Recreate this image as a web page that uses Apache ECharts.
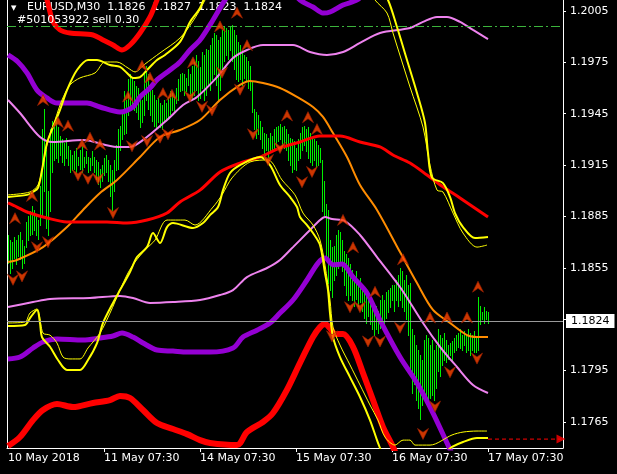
<!DOCTYPE html>
<html><head><meta charset="utf-8">
<script src="https://cdn.jsdelivr.net/npm/echarts@6/dist/echarts.min.js"></script>
<style>html,body{margin:0;padding:0;background:#000}#c{width:617px;height:474px}</style>
</head><body><div id="c"></div>
<script>
// ---- axis / ticks ----
const xTickIdx = [0, 48, 96, 144, 192, 240];
const xTickText = ['10 May 2018', '11 May 07:30', '14 May 07:30', '15 May 07:30', '16 May 07:30', '17 May 07:30'];
const yTicks = [1.2005, 1.1975, 1.1945, 1.1915, 1.1885, 1.1855, 1.1825, 1.1795, 1.1765];
const yLabels = [1.2005, 1.1975, 1.1945, 1.1915, 1.1885, 1.1855, 1.1795, 1.1765];
const yMin = 1.17498, yMax = 1.20114;
const curPrice = 1.1824;
const orderPrice = 1.1996;
const orderText = '#501053922 sell 0.30';
const headerText = 'EURUSD,M30  1.1826  1.1827  1.1823  1.1824';

// ---- M30 bars (high / low) ----
const barHigh = [1.1874,1.1871,1.1870,1.1873,1.1871,1.1874,1.1876,1.1871,1.1868,1.1882,
1.1885,1.1888,1.1891,1.1889,1.1886,1.1883,1.1903,1.1936,1.1948,1.1924,
1.1900,1.1936,1.1941,1.1938,1.1942,1.1937,1.1932,1.1930,1.1928,1.1931,
1.1926,1.1924,1.1921,1.1923,1.1925,1.1920,1.1924,1.1926,1.1920,1.1923,
1.1920,1.1919,1.1923,1.1920,1.1918,1.1917,1.1913,1.1915,1.1919,1.1921,
1.1918,1.1915,1.1912,1.1918,1.1927,1.1936,1.1938,1.1947,1.1958,1.1953,
1.1965,1.1968,1.1966,1.1964,1.1961,1.1960,1.1956,1.1953,1.1969,1.1973,
1.1968,1.1962,1.1959,1.1956,1.1953,1.1954,1.1951,1.1950,1.1953,1.1951,
1.1955,1.1958,1.1957,1.1955,1.1960,1.1965,1.1968,1.1969,1.1968,1.1966,
1.1971,1.1968,1.1973,1.1975,1.1979,1.1976,1.1972,1.1981,1.1979,1.1983,
1.1982,1.1985,1.1989,1.1992,1.1991,1.1988,1.1990,1.1994,1.1996,1.1995,
1.1994,1.1996,1.1997,1.1994,1.1991,1.1987,1.1985,1.1982,1.1979,1.1978,
1.1976,1.1973,1.1964,1.1948,1.1946,1.1944,1.1941,1.1937,1.1934,1.1933,
1.1931,1.1934,1.1932,1.1936,1.1937,1.1938,1.1939,1.1937,1.1938,1.1936,
1.1933,1.1931,1.1930,1.1929,1.1925,1.1930,1.1934,1.1937,1.1938,1.1936,
1.1937,1.1934,1.1931,1.1930,1.1929,1.1927,1.1925,1.1918,1.1906,1.1892,
1.1889,1.1871,1.1867,1.1868,1.1874,1.1877,1.1876,1.1871,1.1865,1.1863,
1.1861,1.1857,1.1854,1.1851,1.1853,1.1848,1.1849,1.1845,1.1842,1.1839,
1.1841,1.1836,1.1833,1.1831,1.1833,1.1830,1.1836,1.1839,1.1836,1.1841,
1.1842,1.1843,1.1845,1.1845,1.1848,1.1851,1.1855,1.1853,1.1848,1.1851,
1.1845,1.1846,1.1819,1.1816,1.1810,1.1807,1.1804,1.1801,1.1813,1.1816,
1.1814,1.1810,1.1813,1.1807,1.1810,1.1819,1.1816,1.1814,1.1817,1.1813,
1.1810,1.1811,1.1812,1.1814,1.1816,1.1817,1.1819,1.1816,1.1818,1.1816,
1.1819,1.1817,1.1816,1.1818,1.1815,1.1838,1.1833,1.1829,1.1832,1.1830,
1.1829];
const barLow = [1.1858,1.1852,1.1855,1.1861,1.1857,1.1862,1.1860,1.1855,1.1858,1.1867,
1.1871,1.1874,1.1875,1.1877,1.1874,1.1872,1.1880,1.1886,1.1900,1.1878,
1.1874,1.1888,1.1911,1.1918,1.1919,1.1917,1.1921,1.1917,1.1915,1.1919,
1.1915,1.1911,1.1912,1.1913,1.1911,1.1915,1.1913,1.1911,1.1914,1.1916,
1.1911,1.1912,1.1915,1.1911,1.1907,1.1904,1.1902,1.1906,1.1909,1.1911,
1.1906,1.1897,1.1889,1.1900,1.1912,1.1913,1.1924,1.1930,1.1933,1.1934,
1.1944,1.1950,1.1948,1.1947,1.1946,1.1942,1.1937,1.1940,1.1944,1.1953,
1.1948,1.1944,1.1941,1.1938,1.1936,1.1940,1.1937,1.1936,1.1941,1.1942,
1.1943,1.1945,1.1947,1.1946,1.1951,1.1953,1.1958,1.1959,1.1956,1.1958,
1.1962,1.1956,1.1954,1.1956,1.1959,1.1953,1.1954,1.1960,1.1953,1.1956,
1.1962,1.1959,1.1965,1.1968,1.1962,1.1953,1.1959,1.1971,1.1976,1.1979,
1.1977,1.1982,1.1976,1.1971,1.1965,1.1964,1.1965,1.1962,1.1966,1.1964,
1.1960,1.1959,1.1946,1.1936,1.1931,1.1933,1.1930,1.1925,1.1921,1.1924,
1.1920,1.1924,1.1923,1.1925,1.1926,1.1929,1.1930,1.1927,1.1925,1.1924,
1.1918,1.1915,1.1911,1.1913,1.1912,1.1918,1.1919,1.1924,1.1927,1.1923,
1.1919,1.1917,1.1915,1.1918,1.1914,1.1915,1.1917,1.1888,1.1886,1.1860,
1.1846,1.1842,1.1838,1.1848,1.1851,1.1855,1.1858,1.1853,1.1845,1.1839,
1.1836,1.1839,1.1836,1.1833,1.1837,1.1833,1.1835,1.1830,1.1826,1.1823,
1.1827,1.1822,1.1819,1.1816,1.1819,1.1817,1.1820,1.1824,1.1822,1.1826,
1.1829,1.1832,1.1836,1.1830,1.1836,1.1833,1.1836,1.1832,1.1830,1.1825,
1.1816,1.1792,1.1782,1.1787,1.1778,1.1773,1.1767,1.1775,1.1781,1.1778,
1.1777,1.1779,1.1781,1.1778,1.1785,1.1795,1.1792,1.1798,1.1801,1.1800,
1.1802,1.1804,1.1801,1.1806,1.1807,1.1809,1.1808,1.1807,1.1810,1.1806,
1.1807,1.1804,1.1807,1.1806,1.1806,1.1807,1.1822,1.1825,1.1823,1.1825,
1.1823];

// ---- indicator lines [bar index, price] ----
const redTop = [[0,1.20348],[11,1.2026],[18,1.20143],[19.5,1.20114],[21,1.20044],[22.5,1.19986],[26,1.19939],[31,1.19921],[42.5,1.1991],[47.5,1.1988],[52.5,1.19851],[57,1.19822],[61,1.19851],[66,1.19921],[71,1.20015],[74.5,1.20114],[78.5,1.20231],[86,1.20377],[96,1.20523]];
const redBot = [[0,1.17509],[6,1.17562],[12.5,1.17661],[17.5,1.1772],[24.5,1.17755],[32.5,1.17737],[42.5,1.17761],[51,1.17778],[56,1.17802],[61,1.1779],[67.5,1.1772],[74.5,1.17644],[82.5,1.17609],[89.5,1.17579],[96,1.17544],[101,1.17527],[114.5,1.17515],[119.5,1.17591],[127.5,1.1765],[132.5,1.17702],[139.5,1.17838],[146,1.17995],[152.5,1.18146],[156,1.18204],[158.5,1.18222],[161,1.18198],[163.5,1.18163],[167.5,1.18163],[172.5,1.18089],[177.5,1.17936],[182.5,1.17778],[187.5,1.1762],[192.5,1.17504],[196,1.17398]];
const purpTop = [[0,1.19793],[5,1.19752],[9.5,1.19688],[14.5,1.19588],[19.5,1.19542],[24.5,1.19512],[39.5,1.19512],[46,1.19489],[56,1.1946],[62.5,1.19489],[66,1.19548],[71,1.196],[74.5,1.19647],[81,1.19705],[86,1.19752],[91,1.19822],[96,1.1988],[102.5,1.19997],[108.5,1.20114],[116,1.20231],[126,1.2026],[138.5,1.20202],[146,1.20114],[152.5,1.20073],[157.5,1.20038],[161,1.20044],[167.5,1.20085],[174.5,1.20114],[183.5,1.20202],[196,1.20289]];
const purpBot = [[0,1.18018],[6,1.18029],[12.5,1.18082],[17.5,1.18117],[24.5,1.18134],[37.5,1.18128],[46,1.1814],[52.5,1.18152],[57,1.18169],[62.5,1.18146],[67.5,1.18111],[74.5,1.1807],[82.5,1.18064],[89.5,1.18058],[101,1.18058],[112.5,1.18082],[117.5,1.18146],[124.5,1.18186],[131,1.18228],[136,1.18286],[142.5,1.18362],[149.5,1.18479],[155,1.18578],[158.5,1.18607],[162.5,1.18568],[167,1.18572],[172.5,1.18496],[179.5,1.18403],[186,1.18245],[196,1.18029],[204.5,1.17877],[212.5,1.17702],[219.5,1.17527],[223.5,1.17428]];
const pinkTop = [[0,1.1953],[6,1.19454],[16,1.19314],[22.5,1.19285],[37.5,1.19296],[54.5,1.19256],[61,1.19256],[67.5,1.19296],[79.5,1.19413],[87.5,1.19501],[94.5,1.19548],[104.5,1.19664],[112.5,1.19775],[119.5,1.19822],[127.5,1.19851],[142.5,1.19851],[151,1.1981],[159.5,1.19793],[167.5,1.1981],[176,1.19863],[186,1.19921],[201,1.1995],[207.5,1.19986],[214.5,1.20015],[219.5,1.20015],[226,1.19986],[232.5,1.19939],[240,1.19886]];
const pinkBot = [[0,1.18321],[12.5,1.1835],[21,1.18368],[41,1.18374],[56,1.18386],[62.5,1.18374],[71,1.18345],[82.5,1.1835],[96,1.18362],[106,1.18391],[112.5,1.1842],[119.5,1.18496],[129.5,1.18549],[136,1.18596],[142.5,1.18671],[149.5,1.18753],[156,1.18829],[158.5,1.18847],[162,1.18835],[168.5,1.18823],[176,1.18742],[184.5,1.18613],[196,1.18438],[207.5,1.18228],[216,1.18089],[224.5,1.17971],[232.5,1.17866],[240,1.17819]];
const orange = [[0,1.18584],[4.5,1.18596],[17.5,1.18671],[29.5,1.18788],[37.5,1.18888],[46,1.18987],[54.5,1.19063],[66,1.19197],[76,1.19314],[86,1.19355],[96,1.19413],[106,1.1953],[116,1.19618],[121,1.19641],[127.5,1.19629],[136,1.196],[144.5,1.19548],[152.5,1.19489],[157.5,1.19431],[162.5,1.19337],[169.5,1.19197],[176,1.19034],[184.5,1.18888],[196,1.18642],[204.5,1.18461],[212.5,1.18304],[221,1.18228],[229.5,1.18157],[234.5,1.18146],[240,1.18146]];
const redMid = [[0,1.18929],[4.5,1.18905],[9.5,1.18876],[19.5,1.18841],[29.5,1.18818],[49.5,1.18818],[59.5,1.18812],[69.5,1.18829],[79.5,1.1887],[86,1.18935],[96,1.19004],[106,1.1911],[116,1.19162],[126,1.19197],[136,1.1925],[146,1.19285],[156,1.1932],[166,1.1932],[176,1.19285],[186,1.19256],[192.5,1.19209],[201,1.19162],[209.5,1.19092],[217.5,1.19023],[226,1.18958],[240,1.18847]];
const yelTop = [[0,1.18964],[9.5,1.18976],[12.5,1.18993],[15,1.19017],[17,1.19121],[19.5,1.19279],[22.5,1.19372],[26,1.19472],[29.5,1.19588],[34.5,1.19705],[40,1.19764],[44.5,1.19764],[51,1.19734],[56,1.19723],[59.5,1.19688],[62.5,1.19659],[66,1.19664],[69.5,1.19705],[74.5,1.19764],[78.5,1.19793],[86,1.19869],[91,1.19986],[96,1.20067],[101,1.20202],[116,1.20406],[176,1.20406],[186,1.20172],[190,1.20114],[194.5,1.19956],[199.5,1.19764],[204.5,1.19571],[208.5,1.19396],[210,1.19221],[212,1.19077],[217.5,1.19045],[221,1.18964],[223.5,1.1887],[227.5,1.18788],[233.5,1.18724],[240,1.1873]];
const yelTopThin = [[0,1.18976],[11,1.18993],[15,1.19034],[17.5,1.1915],[20,1.19296],[23.5,1.19413],[27,1.1953],[31,1.19618],[36,1.19659],[43.5,1.19688],[48.5,1.19752],[54.5,1.19752],[60,1.19717],[63.5,1.19694],[68.5,1.1974],[76,1.19805],[86,1.19892],[93.5,1.20009],[98.5,1.20114],[103.5,1.20231],[173.5,1.20289],[183.5,1.20114],[189.5,1.20038],[192.5,1.19921],[201,1.19606],[207.5,1.19372],[211,1.1915],[214.5,1.19004],[217.5,1.18993],[222.5,1.1887],[227.5,1.18753],[234.5,1.18671],[239.5,1.18683]];
const yelBot = [[0,1.1821],[8.5,1.18216],[11,1.18257],[14.5,1.18304],[16,1.18228],[17,1.18146],[21,1.18089],[25,1.18012],[29.5,1.17954],[36,1.17954],[40,1.18012],[44.5,1.18111],[47.5,1.18228],[52.5,1.18345],[56,1.1842],[61,1.18526],[64.5,1.18613],[69.5,1.18671],[72.5,1.18753],[76,1.18695],[79.5,1.18788],[82.5,1.18812],[92.5,1.18783],[97.5,1.18812],[101,1.18858],[105,1.18905],[107.5,1.19004],[111,1.19104],[116,1.1915],[126,1.19197],[131,1.1915],[136,1.19034],[141,1.18964],[144.5,1.18905],[146,1.18847],[149.5,1.188],[152.5,1.18753],[156,1.18683],[158.5,1.1852],[160,1.1842],[161,1.18286],[162.5,1.18146],[166,1.18029],[171,1.17912],[176,1.17796],[181,1.17661],[184.5,1.17544],[186,1.17498],[188.5,1.17428],[206,1.17428],[218.5,1.17474],[222,1.17504],[227.5,1.17533],[234.5,1.17556],[240,1.17556]];
const yelBotThin = [[0,1.18228],[8.5,1.18234],[11,1.18286],[14.5,1.1831],[17.5,1.18169],[21,1.18157],[24.5,1.18111],[27.5,1.18029],[31,1.18018],[36,1.18018],[40,1.18082],[46,1.18169],[51,1.18286],[56,1.1842],[60,1.1852],[63.5,1.18584],[68.5,1.18654],[73.5,1.18712],[79.5,1.18829],[88.5,1.18829],[93.5,1.188],[102.5,1.18905],[107,1.18976],[112,1.19075],[121,1.19168],[130,1.1918],[137,1.19063],[143.5,1.18976],[147.5,1.1887],[152.5,1.188],[156,1.18712],[158.5,1.18566],[161,1.18362],[162.5,1.18204],[166,1.18099],[171,1.17983],[176,1.17866],[181,1.17749],[185,1.17661],[188.5,1.17562],[193.5,1.17515],[197.5,1.17544],[201,1.17544],[203.5,1.17515],[211,1.17515],[222,1.17574],[227.5,1.17591],[234.5,1.17597],[239.5,1.17597]];

// ---- signal arrows ----
const arrowsUp = [[3.5,1.1884],[12,1.1897],[17.5,1.1953],[25,1.1940],[30,1.1938],[37,1.1927],[41,1.1931],[46,1.1927],[60,1.1955],[67,1.1973],[71,1.1966],[77.5,1.1957],[82,1.1956],[92.5,1.1975],[106,1.1996],[114.5,1.2004],[119.5,1.1985],[139.5,1.1944],[150,1.1943],[154.5,1.1936],[167.5,1.1883],[172.5,1.1867],[183.5,1.1841],[197.5,1.1860],[211,1.1826],[219.5,1.1826],[229.5,1.1826],[235,1.1844]];
const arrowsDown = [[2.5,1.1848],[7,1.1850],[14.5,1.1867],[20,1.1870],[35,1.1909],[40,1.1907],[45,1.1907],[52.5,1.1887],[62,1.1926],[69.5,1.1929],[76,1.1931],[80,1.1933],[91,1.1955],[97,1.1949],[102,1.1947],[107,1.1969],[116,1.1959],[122.5,1.1933],[130,1.1918],[136,1.1925],[147,1.1905],[152,1.1911],[162,1.1815],[171,1.1832],[176,1.1832],[180,1.1812],[186,1.1812],[196,1.1820],[207.5,1.1758],[213.5,1.1774],[221,1.1794],[234.5,1.1802]];
const pendingArrow = [[240, 1.1755], [276.5, 1.1755]];

const FONT = 'DejaVu Sans';
const chart = echarts.init(document.getElementById('c'), null, {renderer: 'canvas'});

function mkLine(data, color, width, z) {
  return {type: 'line', data: data, showSymbol: false, symbol: 'none', smooth: 0.3,
    lineStyle: {color: color, width: width}, z: z, clip: true, silent: true, animation: false};
}
const upPath = 'path://M5,0L10,10L5,6.5L0,10Z';
const downPath = 'path://M0,0L5,3.5L10,0L5,10Z';

const levelSeries = {
  type: 'line', data: [], z: 4, silent: true, animation: false, showSymbol: false,
  markLine: {
    silent: true, symbol: ['none', 'none'], animation: false, precision: 5,
    data: [
      {yAxis: curPrice, lineStyle: {color: '#9a9a9a', width: 1, type: 'solid'},
        label: {show: true, position: 'end', formatter: curPrice.toFixed(4), backgroundColor: '#fff',
          color: '#000', fontFamily: FONT, fontSize: 11, padding: [2, 5, 1, 5], distance: 3}},
      {yAxis: orderPrice, lineStyle: {color: '#3cb43c', width: 1, type: [9, 3, 2, 3]},
        label: {show: true, position: 'insideStartTop', formatter: orderText, color: '#fff',
          fontFamily: FONT, fontSize: 11, distance: [10, 1]}}
    ]
  }
};

const option = {
  backgroundColor: '#000',
  animation: false,
  grid: {left: 7, right: 54, top: 0, bottom: 26},
  graphic: [
    {type: 'text', left: 11, top: 5, z: 0, style: {text: '▼', fill: '#fff', font: '7px DejaVu Sans'}},
    {type: 'text', left: 27, top: 2, z: 0, style: {text: headerText, fill: '#fff', font: '11px DejaVu Sans'}}
  ],
  xAxis: {
    type: 'value', min: -0.5, max: 277.5,
    axisLine: {show: true, onZero: false, lineStyle: {color: '#fff', width: 1}},
    splitLine: {show: false},
    axisTick: {show: true, customValues: xTickIdx.slice(1), length: 4, lineStyle: {color: '#fff'}},
    axisLabel: {customValues: xTickIdx, formatter: v => xTickText[xTickIdx.indexOf(v)],
      color: '#fff', fontFamily: FONT, fontSize: 11, align: 'left', margin: 5}
  },
  yAxis: [
    {type: 'value', position: 'right', min: yMin, max: yMax,
      axisLine: {show: true, onZero: false, lineStyle: {color: '#fff'}},
      splitLine: {show: false},
      axisTick: {show: true, customValues: yTicks, length: 3, lineStyle: {color: '#fff'}},
      axisLabel: {customValues: yLabels, formatter: v => v.toFixed(4), color: '#fff',
        fontFamily: FONT, fontSize: 11, margin: 7}},
    {type: 'value', position: 'left', min: yMin, max: yMax,
      axisLine: {show: true, onZero: false, lineStyle: {color: '#fff'}},
      axisTick: {show: false}, axisLabel: {show: false}, splitLine: {show: false}}
  ],
  series: [
    {
      type: 'custom', z: 2, silent: true, clip: true,
      data: barHigh.map((h, i) => [i, h, barLow[i]]),
      encode: {x: 0, y: [1, 2]},
      renderItem: function (params, api) {
        const a = api.coord([api.value(0), api.value(1)]);
        const b = api.coord([api.value(0), api.value(2)]);
        const x = Math.round(a[0]) + 0.5;
        return {type: 'line', shape: {x1: x, y1: Math.round(a[1]), x2: x, y2: Math.round(b[1]) + 1},
          style: {stroke: '#00ee00', lineWidth: 1}};
      }
    },
    levelSeries,
    mkLine(redTop, '#ff0000', 5, 3),
    mkLine(redBot, '#ff0000', 6, 3),
    mkLine(purpTop, '#9400d3', 5, 3),
    mkLine(purpBot, '#9400d3', 5, 3),
    mkLine(pinkTop, '#ee82ee', 2, 3),
    mkLine(pinkBot, '#ee82ee', 2, 3),
    mkLine(orange, '#ff8c00', 2, 3),
    mkLine(redMid, '#ff0000', 3, 3),
    mkLine(yelTopThin, '#ffff00', 1, 3),
    mkLine(yelBotThin, '#ffff00', 1, 3),
    mkLine(yelTop, '#ffff00', 2, 3),
    mkLine(yelBot, '#ffff00', 2, 3),
    {type: 'line', data: pendingArrow, showSymbol: false, symbol: 'none', z: 4, silent: true,
      lineStyle: {color: '#ff0000', width: 1, type: [4, 3]}},
    {type: 'scatter', data: [pendingArrow[1]], symbol: 'triangle', symbolRotate: -90, symbolSize: [9, 9],
      z: 4, silent: true, itemStyle: {color: '#ff0000'}},
    {type: 'scatter', data: arrowsUp, symbol: upPath, symbolSize: [11, 11], z: 5, silent: true,
      itemStyle: {color: '#ff4500', borderColor: '#9a2000', borderWidth: 0.8}},
    {type: 'scatter', data: arrowsDown, symbol: downPath, symbolSize: [11, 11], z: 5, silent: true,
      itemStyle: {color: '#ff4500', borderColor: '#9a2000', borderWidth: 0.8}}
  ]
};
chart.setOption(option);
</script></body></html>
